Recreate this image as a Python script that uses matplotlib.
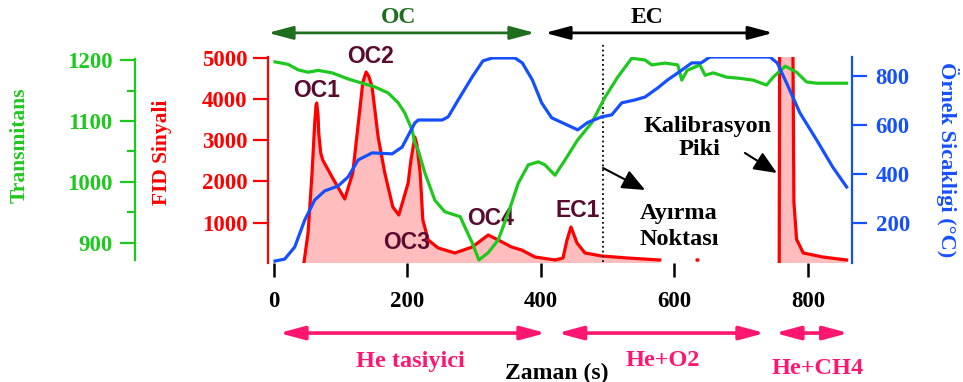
import numpy as np
import matplotlib.pyplot as plt
from matplotlib.ticker import FixedLocator

plt.rcParams['font.family'] = ['Liberation Serif', 'DejaVu Serif']
plt.rcParams['font.weight'] = 'bold'

# --- veriler ---
nan = np.nan
fid_t = [45, 51, 57, 61, 63, 64, 66, 67, 70, 73, 87, 106, 118, 129, 133, 138, 142, 147,
         156, 166, 178, 187, 201, 205, 211, 214, 219, 223, 231, 246, 271, 297, 321, 336,
         356, 371, 391, 421, 433, 439, 445, 454, 466, 491, 530, 578, 579,
         634, 635, 636,
         757, 758, 776, 779, 783, 793, 822, 858]
fid = [50, 750, 2206, 3418, 3850, 3903, 3600, 3176, 2690, 2521, 2109, 1576, 2206, 3806, 4400,
       4654, 4550, 4290, 3079, 2206, 1382, 1188, 1964, 2500, 3079, 2900, 2206, 1067, 582, 388,
       267, 412, 703, 582, 412, 339, 170, 97, 145, 582, 897, 509, 267, 194, 145, 97, nan,
       97, 97, nan,
       50, 9000, 9000, 1500, 600, 267, 170, 97]

trans_t = [1.5, 21, 36, 51, 66, 87, 111, 132, 151, 171, 186, 196, 207, 211, 216, 226, 241,
           256, 279, 286, 297, 307, 321, 336, 351, 366, 381, 396, 406, 421, 436, 455, 476,
           496, 515, 536, 556, 566, 586, 605, 611, 619, 638, 646, 658, 678, 698, 718, 738,
           748, 766, 783, 798, 813, 858]
trans = [1197, 1193, 1184, 1180, 1183, 1179, 1169, 1162, 1156, 1146, 1130, 1113, 1085, 1064,
         1052, 1015, 970, 951, 943, 926, 900, 872, 884, 905, 949, 998, 1028, 1033, 1028, 1011,
         1036, 1069, 1097, 1139, 1172, 1203, 1200, 1192, 1195, 1192, 1167, 1183, 1192, 1175,
         1179, 1172, 1170, 1167, 1159, 1172, 1190, 1180, 1164, 1162, 1162]

temp_t = [1.5, 16, 31, 46, 61, 76, 96, 111, 126, 147, 177, 192, 211, 216, 252, 261, 276, 297,
          313, 327, 361, 372, 387, 401, 416, 455, 470, 491, 506, 521, 541, 556, 575, 590, 605,
          626, 640, 653, 743, 754, 768, 788, 813, 837, 858]
temp = [45, 53, 102, 212, 294, 331, 351, 388, 457, 486, 482, 510, 608, 620, 620, 633, 702, 796,
        861, 873, 873, 853, 784, 690, 629, 580, 610, 633, 641, 690, 702, 714, 751, 784, 812,
        853, 853, 877, 877, 853, 771, 649, 539, 429, 347]

x_ticks = [0, 200, 400, 600, 800]
fid_ticks = [1000, 2000, 3000, 4000, 5000]
trans_ticks = [900, 1000, 1100, 1200]
trans_minor = [950, 1050, 1150]
temp_ticks = [200, 400, 600, 800]
split_time = 493

RED = '#ff0000'
GREEN = '#1fc81f'
BLUE = '#1450ff'
MAROON = '#5a0a2e'
PINK = '#ff1670'
TICK_FS = 16.5

fig = plt.figure(figsize=(9.63, 3.82), dpi=100)
ax = fig.add_axes([0.2783, 0.3115, 0.6064, 0.5393])
ax_g = ax.twinx()
ax_b = ax.twinx()

# FID (kirmizi)
fid_arr = np.array(fid, dtype=float)
ax.fill_between(fid_t, fid_arr, 0, color='#ffbdbd', lw=0)
ax.plot(fid_t, fid_arr, color=RED, lw=2.3)
ax.set_xlim(-9, 866)
ax.set_ylim(24, 5018)
ax.set_xticks(x_ticks)
ax.set_yticks(fid_ticks)
for s in ['top', 'bottom', 'right']:
    ax.spines[s].set_visible(False)
ax.spines['left'].set_color(RED)
ax.spines['left'].set_linewidth(1.6)
ax.tick_params(axis='y', colors=RED, direction='out', length=11, width=1.6,
               labelsize=TICK_FS, pad=4)
ax.tick_params(axis='x', colors='black', direction='out', length=10, width=1.8,
               labelsize=TICK_FS, pad=10)

# Transmitans (yesil)
ax_g.plot(trans_t, trans, color=GREEN, lw=2.3)
ax_g.set_ylim(867, 1205)
ax_g.yaxis.set_ticks_position('left')
ax_g.set_yticks(trans_ticks)
ax_g.yaxis.set_minor_locator(FixedLocator(trans_minor))
for s in ['top', 'bottom', 'right']:
    ax_g.spines[s].set_visible(False)
ax_g.spines['left'].set_position(('outward', 96))
ax_g.spines['left'].set_bounds(872, 1201)
ax_g.spines['left'].set_color(GREEN)
ax_g.spines['left'].set_linewidth(1.6)
ax_g.tick_params(axis='y', which='major', colors=GREEN, direction='out', length=11,
                 width=1.6, labelsize=TICK_FS, pad=5)
ax_g.tick_params(axis='y', which='minor', colors=GREEN, direction='out', length=6, width=1.6)

# Sicaklik (mavi)
ax_b.plot(temp_t, temp, color=BLUE, lw=2.3)
ax_b.set_ylim(37, 877)
ax_b.set_yticks(temp_ticks)
for s in ['top', 'bottom', 'left']:
    ax_b.spines[s].set_visible(False)
ax_b.spines['right'].set_color(BLUE)
ax_b.spines['right'].set_linewidth(1.6)
ax_b.tick_params(axis='y', colors=BLUE, direction='out', length=11, width=1.6,
                 labelsize=TICK_FS, pad=6)

# eksen etiketleri
ax.text(-0.4247, 0.573, 'Transmitans', transform=ax.transAxes, rotation=90,
        ha='center', va='center', color=GREEN, fontsize=15.5)
ax.text(-0.1815, 0.539, 'FID Sinyali', transform=ax.transAxes, rotation=90,
        ha='center', va='center', color=RED, fontsize=15.5)
ax.text(1.164, 0.5, 'Örnek Sicakligi (°C)', transform=ax.transAxes, rotation=270,
        ha='center', va='center', color=BLUE, fontsize=16)
ax.text(424, -0.535, 'Zaman (s)', transform=ax.get_xaxis_transform(),
        ha='center', va='center', color='black', fontsize=17)

# pik etiketleri
for name, tx, ty in [('OC1', 64, 4194), ('OC2', 145, 5042), ('OC3', 198, 509),
                     ('OC4', 325, 1091), ('EC1', 455, 1285)]:
    ax.text(tx, ty, name, ha='center', va='center', color=MAROON, fontsize=16.5,
            family='Liberation Sans', fontweight='bold')

# ayirma noktasi
ax.plot([split_time, split_time], [48, 5390], color='black', ls=':', lw=1.3, clip_on=False)
ax.annotate('', xy=(556, 1794), xytext=(split_time, 2327),
            arrowprops=dict(arrowstyle='-|>,head_length=0.7,head_width=0.3',
                            color='black', lw=1.5, shrinkA=0, shrinkB=0,
                            mutation_scale=20))
ax.text(548, 1212, 'Ayırma', ha='left', va='center', fontsize=17.5)
ax.text(548, 582, 'Noktası', ha='left', va='center', fontsize=17.5)

# kalibrasyon piki
ax.text(649, 3321, 'Kalibrasyon', ha='center', va='center', fontsize=17.5)
ax.text(638, 2764, 'Piki', ha='center', va='center', fontsize=17.5)
ax.annotate('', xy=(753.5, 2206), xytext=(705.6, 2691),
            arrowprops=dict(arrowstyle='-|>,head_length=0.7,head_width=0.3',
                            color='black', lw=1.5, shrinkA=0, shrinkB=0,
                            mutation_scale=20))

# ust oklar: OC / EC
tr = ax.get_xaxis_transform()
def double_arrow(x0, x1, y, color, lw):
    ax.annotate('', xy=(x1, y), xytext=(x0, y), xycoords=tr, textcoords=tr,
                arrowprops=dict(arrowstyle='<|-|>,head_length=0.75,head_width=0.2',
                                color=color, lw=lw, shrinkA=0, shrinkB=0,
                                mutation_scale=20), annotation_clip=False)

double_arrow(-9, 391, 1.117, '#1e6e1e', 2)
double_arrow(406, 748, 1.117, 'black', 2)
ax.text(186, 1.194, 'OC', transform=tr, ha='center', va='center', color='#1e6e1e', fontsize=17)
ax.text(559, 1.194, 'EC', transform=tr, ha='center', va='center', color='black', fontsize=17)

# alt oklar: gaz akislari
double_arrow(7.5, 407.5, -0.34, PINK, 2.6)
double_arrow(425, 735.6, -0.34, PINK, 2.6)
double_arrow(750.6, 861, -0.34, PINK, 2.6)
ax.text(204, -0.48, 'He tasiyici', transform=tr, ha='center', va='center', color=PINK, fontsize=17.5)
ax.text(583, -0.471, 'He+O2', transform=tr, ha='center', va='center', color=PINK, fontsize=17.5)
ax.text(815, -0.51, 'He+CH4', transform=tr, ha='center', va='center', color=PINK, fontsize=17.5)

fig.savefig('out.png', dpi=100)
